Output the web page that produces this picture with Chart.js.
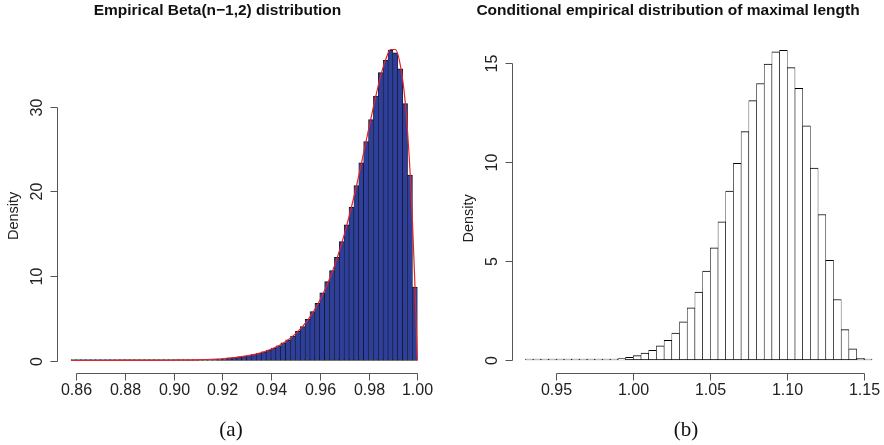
<!DOCTYPE html>
<html>
<head>
<meta charset="utf-8">
<script src="https://cdn.jsdelivr.net/npm/chart.js@4.4.1/dist/chart.umd.min.js"></script>
<style>
  html, body { margin: 0; padding: 0; background: #fff; overflow: hidden; }
  #wrap { position: relative; width: 884px; height: 445px; }
  canvas { position: absolute; top: 0; }
  #betaChart { left: 0; }
  #lengthChart { left: 442px; }
</style>
</head>
<body>
<div id="wrap">
  <canvas id="betaChart" width="442" height="445"></canvas>
  <canvas id="lengthChart" width="442" height="445"></canvas>
</div>
<script>
// ----- panel (a): histogram of Beta(n-1,2) sample, bin centres (width 0.002)
const betaBins = [0.859,0.861,0.863,0.865,0.867,0.869,0.871,0.873,0.875,0.877,
  0.879,0.881,0.883,0.885,0.887,0.889,0.891,0.893,0.895,0.897,
  0.899,0.901,0.903,0.905,0.907,0.909,0.911,0.913,0.915,0.917,
  0.919,0.921,0.923,0.925,0.927,0.929,0.931,0.933,0.935,0.937,
  0.939,0.941,0.943,0.945,0.947,0.949,0.951,0.953,0.955,0.957,
  0.959,0.961,0.963,0.965,0.967,0.969,0.971,0.973,0.975,0.977,
  0.979,0.981,0.983,0.985,0.987,0.989,0.991,0.993,0.995,0.997,0.999];
const betaDensity = [0.0003,0.0004,0.0005,0.0007,0.0009,0.0011,0.0014,0.0017,0.0021,0.0026,
  0.0032,0.004,0.005,0.006,0.0075,0.009,0.011,0.014,0.017,0.021,
  0.026,0.032,0.039,0.047,0.057,0.069,0.084,0.10,0.12,0.15,
  0.18,0.23,0.28,0.34,0.42,0.50,0.61,0.73,0.86,1.04,
  1.24,1.48,1.75,2.10,2.45,2.90,3.45,4.00,4.88,5.78,
  6.77,8.02,9.33,10.63,12.2,14.06,16.04,18.13,20.7,23.4,
  25.9,28.5,31.3,34.06,35.56,36.74,36.4,34.5,30.4,21.95,8.7];
// red density curve
const betaCurveX = [0.858,0.87,0.88,0.89,0.90,0.91,0.92,0.925,0.93,0.935,0.94,0.945,0.95,0.955,
  0.96,0.965,0.97,0.975,0.98,0.983,0.985,0.987,0.989,0.991,0.993,0.995,0.997,0.998,0.999,1.0];
const betaCurveY = [0.0003,0.0011,0.0039,0.011,0.030,0.080,0.21,0.34,0.54,0.85,1.33,2.05,3.15,4.76,
  7.10,10.39,14.86,20.59,27.33,31.3,33.7,35.6,36.8,36.8,35.0,30.7,22.5,16.6,9.15,0];
const betaXTicks = [0.86,0.88,0.90,0.92,0.94,0.96,0.98,1.00];
const betaXLabels = ["0.86","0.88","0.90","0.92","0.94","0.96","0.98","1.00"];
const betaYTicks = [0,10,20,30];

// ----- panel (b): conditional maximal length, bin centres (width 0.005)
const lengthBins = [0.9325,0.9375,0.9425,0.9475,0.9525,0.9575,0.9625,0.9675,0.9725,0.9775,
  0.9825,0.9875,0.9925,0.9975,1.0025,1.0075,1.0125,1.0175,1.0225,1.0275,
  1.0325,1.0375,1.0425,1.0475,1.0525,1.0575,1.0625,1.0675,1.0725,1.0775,
  1.0825,1.0875,1.0925,1.0975,1.1025,1.1075,1.1125,1.1175,1.1225,1.1275,
  1.1325,1.1375,1.1425,1.1475,1.1525];
const lengthDensity = [0.004,0.004,0.005,0.006,0.007,0.009,0.011,0.014,0.018,0.02,
  0.03,0.04,0.07,0.13,0.22,0.35,0.49,0.71,0.99,1.36,
  1.92,2.63,3.43,4.48,5.66,6.97,8.52,9.92,11.52,13.09,
  13.95,14.93,15.55,15.62,14.75,13.71,11.81,9.68,7.34,5.03,
  3.05,1.53,0.56,0.09,0.01];
const lengthXTicks = [0.95,1.00,1.05,1.10,1.15];
const lengthXLabels = ["0.95","1.00","1.05","1.10","1.15"];
const lengthYTicks = [0,5,10,15];

const SANS = '"Liberation Sans", Arial, Helvetica, sans-serif';

// R-like axes drawn from the chart's own scales
function rAxes(cfg) {
  return {
    id: "rAxes",
    afterDraw(chart) {
      const ctx = chart.ctx;
      const xs = chart.scales.x, ys = chart.scales.y;
      const area = chart.chartArea;
      ctx.save();
      ctx.strokeStyle = "#555";
      ctx.lineWidth = 1;

      const axY = Math.round(area.bottom) + 0.5;
      const xp = cfg.xTicks.map(v => Math.round(xs.getPixelForValue(v)) + 0.5);
      ctx.beginPath();
      ctx.moveTo(xp[0], axY);
      ctx.lineTo(xp[xp.length - 1], axY);
      xp.forEach(p => { ctx.moveTo(p, axY); ctx.lineTo(p, axY + 7); });

      const axX = Math.round(area.left) + 0.5;
      const yp = cfg.yTicks.map(v => Math.round(ys.getPixelForValue(v)) + 0.5);
      ctx.moveTo(axX, yp[0]);
      ctx.lineTo(axX, yp[yp.length - 1]);
      yp.forEach(p => { ctx.moveTo(axX, p); ctx.lineTo(axX - 7, p); });
      ctx.stroke();

      ctx.fillStyle = "#222";
      ctx.font = "16px " + SANS;
      ctx.textAlign = "center";
      ctx.textBaseline = "middle";
      cfg.xLabels.forEach((t, i) => ctx.fillText(t, xp[i], 391));
      cfg.yTicks.forEach((v, i) => {
        ctx.save();
        ctx.translate(axX - 20, yp[i]);
        ctx.rotate(-Math.PI / 2);
        ctx.fillText(String(v), 0, 0);
        ctx.restore();
      });

      ctx.font = "14.5px " + SANS;
      ctx.save();
      ctx.translate(axX - 44, (area.top + area.bottom) / 2 + 13);
      ctx.rotate(-Math.PI / 2);
      ctx.fillText("Density", 0, 0);
      ctx.restore();

      ctx.font = "bold 15.5px " + SANS;
      ctx.textBaseline = "alphabetic";
      ctx.fillStyle = "#111";
      ctx.fillText(cfg.title, cfg.titleX, 14.5);

      ctx.font = '21px "Liberation Serif", "Times New Roman", serif';
      ctx.textBaseline = "middle";
      ctx.fillText(cfg.caption, cfg.captionX, 430);
      ctx.restore();
    }
  };
}

// neighbouring bars share their side borders, like R's rect outlines
const barBorder = { top: 1, bottom: 1, left: 0.6, right: 0.6 };

new Chart(document.getElementById("betaChart"), {
  type: "bar",
  data: {
    datasets: [
      {
        type: "line",
        data: betaCurveX.map((x, i) => ({ x: x, y: betaCurveY[i] })),
        borderColor: "#e3242b",
        borderWidth: 1.2,
        pointRadius: 0,
        cubicInterpolationMode: "monotone",
        order: 0
      },
      {
        data: betaBins.map((x, i) => ({ x: x, y: betaDensity[i] })),
        backgroundColor: "#2d3f9b",
        borderColor: "#111111",
        borderWidth: barBorder,
        borderSkipped: false,
        minBarLength: 1,
        barPercentage: 1,
        categoryPercentage: 1,
        order: 1
      }
    ]
  },
  options: {
    responsive: false,
    animation: false,
    events: [],
    layout: { padding: { left: 57, right: 11, top: 32.6, bottom: 72 } },
    plugins: { legend: { display: false }, tooltip: { enabled: false } },
    scales: {
      x: { type: "linear", display: false, offset: false, min: 0.85221, max: 1.00562 },
      y: { type: "linear", display: false, min: -1.479, max: 38.8 }
    }
  },
  plugins: [rAxes({
    xTicks: betaXTicks, xLabels: betaXLabels, yTicks: betaYTicks,
    title: "Empirical Beta(n\u22121,2) distribution", titleX: 217.5,
    caption: "(a)", captionX: 231
  })]
});

new Chart(document.getElementById("lengthChart"), {
  type: "bar",
  data: {
    datasets: [{
      data: lengthBins.map((x, i) => ({ x: x, y: lengthDensity[i] })),
      backgroundColor: "#ffffff",
      borderColor: "#000000",
      borderWidth: barBorder,
      borderSkipped: false,
      minBarLength: 1,
      barPercentage: 1,
      categoryPercentage: 1
    }]
  },
  options: {
    responsive: false,
    animation: false,
    events: [],
    layout: { padding: { left: 70, right: 0, top: 38, bottom: 72.3 } },
    plugins: { legend: { display: false }, tooltip: { enabled: false } },
    scales: {
      x: { type: "linear", display: false, offset: false, min: 0.92123, max: 1.16279 },
      y: { type: "linear", display: false, min: -0.641, max: 16.246 }
    }
  },
  plugins: [rAxes({
    xTicks: lengthXTicks, xLabels: lengthXLabels, yTicks: lengthYTicks,
    title: "Conditional empirical distribution of maximal length", titleX: 226,
    caption: "(b)", captionX: 244
  })]
});
</script>
</body>
</html>
